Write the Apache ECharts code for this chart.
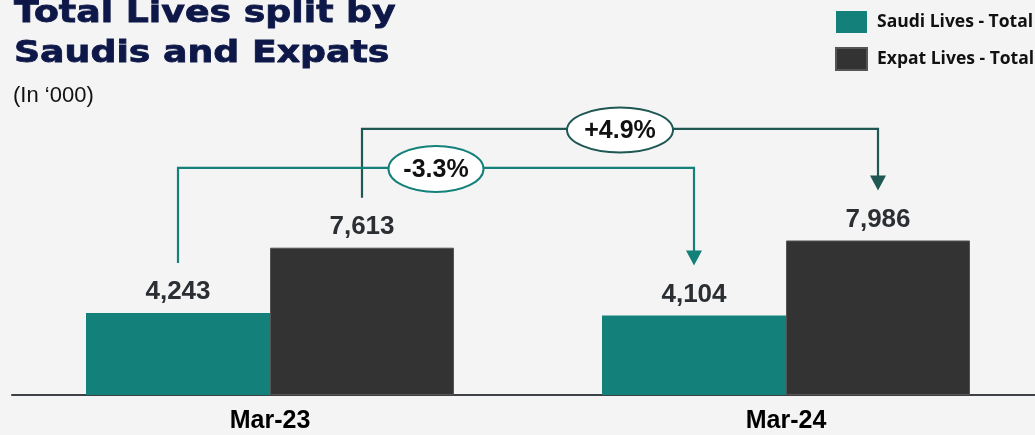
<!DOCTYPE html>
<html>
<head>
<meta charset="utf-8">
<script src="https://cdn.jsdelivr.net/npm/echarts@6/dist/echarts.min.js"></script>
<style>
html,body{margin:0;padding:0;background:#f4f4f4;}
#c{width:1035px;height:435px;}
</style>
</head>
<body>
<div id="c"></div>
<script>
const categories = ['Mar-23', 'Mar-24'];
const saudiLives = [4243, 4104];
const expatLives = [7613, 7986];
const seriesNames = ['Saudi Lives - Total', 'Expat Lives - Total'];
const changeLabels = ['-3.3%', '+4.9%'];
const titleLines = ['Total Lives split by', 'Saudis and Expats'];
const subtitle = '(In \u2018000)';

const TEAL = '#13807a';
const DARK = '#333333';
const GREEN_DARK = '#1f5753';
const NAVY = '#0d1848';

const chart = echarts.init(document.getElementById('c'));
const fmt = v => v.toLocaleString('en-US');

chart.setOption({
  backgroundColor: '#f4f4f4',
  animation: false,
  legend: {
    orient: 'vertical', left: 830, top: 6,
    itemWidth: 31, itemHeight: 22, itemGap: 14,
    icon: 'rect',
    data: seriesNames,
    textStyle: {fontFamily: 'Open Sans', fontWeight: 'bold', fontSize: 17.5, color: '#111', padding: [0,0,0,5]}
  },
  grid: {left: 12, right: -9, top: 201.5, bottom: 40, containLabel: false, outerBoundsMode: 'none'},
  xAxis: {
    type: 'category', data: categories,
    axisLine: {lineStyle: {color: '#3d4145', width: 2}},
    axisTick: {show: false},
    axisLabel: {fontFamily: 'Liberation Sans', fontWeight: 'bold', fontSize: 25, color: '#000', margin: 14}
  },
  yAxis: {type: 'value', min: 0, max: 10000, show: false, splitLine: {show: false}},
  series: [
    {
      name: seriesNames[0], type: 'bar', data: saudiLives, barWidth: 184, barGap: '0%',
      itemStyle: {color: TEAL},
      label: {show: true, position: 'top', distance: 8, formatter: p => fmt(p.value),
        fontFamily: 'Liberation Sans', fontWeight: 'bold', fontSize: 26, color: '#2b2f33'}
    },
    {
      name: seriesNames[1], type: 'bar', data: expatLives, barWidth: 184,
      itemStyle: {color: DARK, borderColor: '#555', borderWidth: 1},
      label: {show: true, position: 'top', distance: 8, formatter: p => fmt(p.value),
        fontFamily: 'Liberation Sans', fontWeight: 'bold', fontSize: 26, color: '#2b2f33'}
    }
  ]
});

function barCenter(seriesIdx, catIdx, value) {
  const p = chart.convertToPixel({gridIndex: 0}, [catIdx, value]);
  const offset = seriesIdx === 0 ? -92 : 92;
  return [p[0] + offset, p[1]];
}

function bracket(seriesIdx, values, color, levelAbove, text, ellW, ellH) {
  const a = barCenter(seriesIdx, 0, values[0]);
  const b = barCenter(seriesIdx, 1, values[1]);
  const startY = a[1] - 50;
  const tipY = b[1] - 50;
  const levelY = Math.min(a[1], b[1]) - levelAbove;
  const midX = (a[0] + b[0]) / 2;
  const els = [];
  els.push({type: 'polyline', shape: {points: [[a[0], startY], [a[0], levelY], [b[0], levelY], [b[0], tipY - 14]]},
    style: {stroke: color, lineWidth: 2.2, fill: null}, z: 10});
  els.push({type: 'polygon', shape: {points: [[b[0] - 8, tipY - 15], [b[0] + 8, tipY - 15], [b[0], tipY]]},
    style: {fill: color}, z: 10});
  els.push({type: 'ellipse', shape: {cx: midX, cy: levelY + 1, rx: ellW / 2, ry: ellH / 2},
    style: {fill: '#ffffff', stroke: color, lineWidth: 2}, z: 11});
  els.push({type: 'text', x: midX, y: levelY + 2, style: {text: text, align: 'center', verticalAlign: 'middle',
    font: 'bold 25px "Liberation Sans", Arial, sans-serif', fill: '#111'}, z: 12});
  return els;
}

const titleEls = [
  {type: 'text', x: 14, y: 14, scaleX: 1.17, style: {text: titleLines[0], align: 'left', verticalAlign: 'middle',
    font: 'bold 31px "DejaVu Sans", sans-serif', fill: NAVY, stroke: NAVY, lineWidth: 0.8}, z: 20},
  {type: 'text', x: 14, y: 54, scaleX: 1.17, style: {text: titleLines[1], align: 'left', verticalAlign: 'middle',
    font: 'bold 31px "DejaVu Sans", sans-serif', fill: NAVY, stroke: NAVY, lineWidth: 0.8}, z: 20},
  {type: 'text', x: 13, y: 96, style: {text: subtitle, align: 'left', verticalAlign: 'middle',
    font: '22px "Liberation Sans", Arial, sans-serif', fill: '#111'}, z: 20}
];

const g = [].concat(
  titleEls,
  bracket(1, expatLives, GREEN_DARK, 111.5, changeLabels[1], 106, 45),
  bracket(0, saudiLives, TEAL, 145, changeLabels[0], 95, 46)
);
chart.setOption({graphic: {elements: g}});
</script>
</body>
</html>
